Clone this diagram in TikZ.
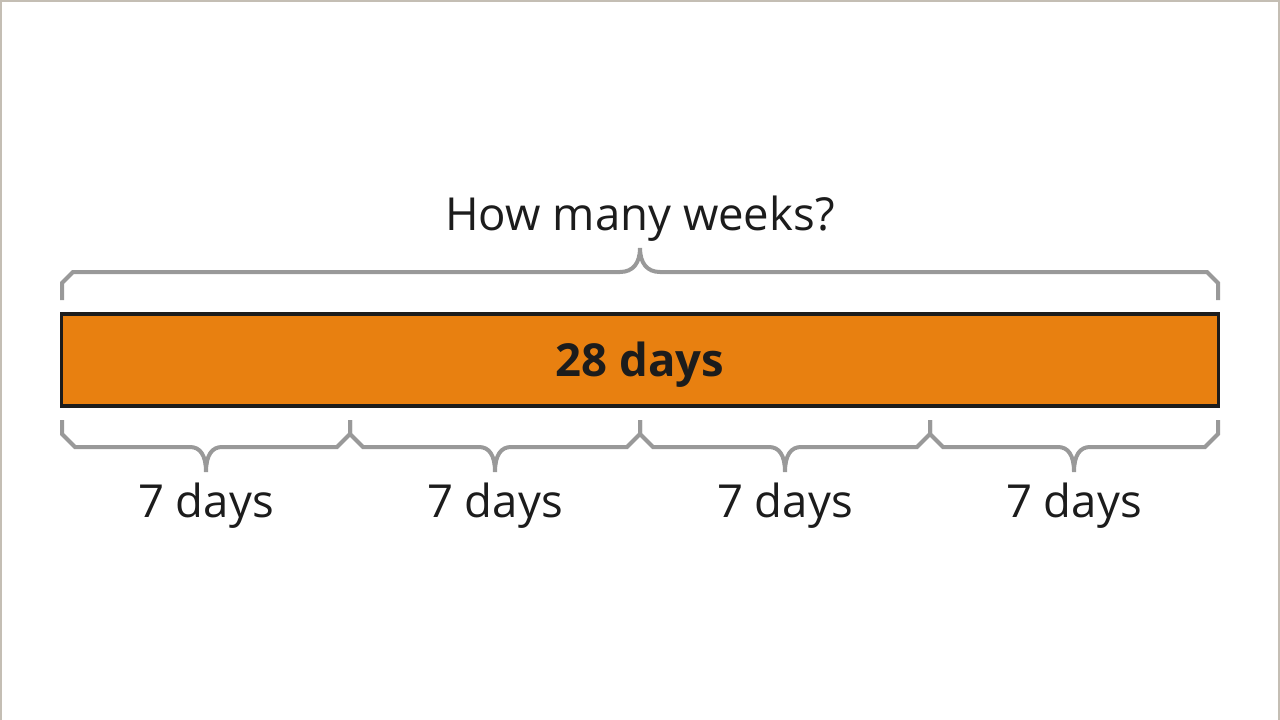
\documentclass[tikz,border=0pt]{standalone}
\usepackage{fontspec}
\setmainfont{Open Sans}
\definecolor{barorange}{HTML}{E88010}
\definecolor{bracegray}{HTML}{999999}
\definecolor{framegray}{HTML}{C4BEB4}
\definecolor{inkdark}{HTML}{1C1C1C}
\begin{document}
\begin{tikzpicture}[x=1pt,y=-1pt,
  brace/.style={draw=bracegray,line width=4pt,line join=miter},
  bar/.style={draw=inkdark,fill=barorange,line width=3.5pt,minimum width=1157pt,minimum height=92pt,inner sep=0pt},
  lbl/.style={anchor=base,inner sep=0pt,text=inkdark,font=\fontsize{45.5}{52}\selectfont},
  bold/.style={lbl,font=\fontsize{45.5}{52}\selectfont\bfseries}]
\useasboundingbox (0,0) rectangle (1280,720);
\fill[white] (0,0) rectangle (1280,720);
\draw[framegray,line width=2.5pt] (1,720) -- (1,1) -- (1279,1) -- (1279,720);
% bar
\node[bar] (bar) at (640,360) {};
\node[bold] (barlabel) at (640,376) {28 days};
% top brace
\draw[brace] (62,300) -- (62,283) -- (73,272) -- (620,272)
  .. controls (633,272) and (640,263) .. (640,248)
  .. controls (640,263) and (647,272) .. (660,272)
  -- (1207,272) -- (1218,283) -- (1218,300);
\node[lbl] (question) at (640,230) {How many weeks?};
% bottom braces
\foreach \a/\b/\n in {62/350/1,350/640/2,640/930/3,930/1218/4}{
  \pgfmathsetmacro{\m}{(\a+\b)/2}
  \draw[brace] (\a,420) -- (\a,434) -- (\a+13,447) -- (\m-16,447)
    .. controls (\m-6,447) and (\m,455) .. (\m,472)
    .. controls (\m,455) and (\m+6,447) .. (\m+16,447)
    -- (\b-13,447) -- (\b,434) -- (\b,420);
  \node[lbl] (week\n) at (\m,517) {7 days};
}
\end{tikzpicture}
\end{document}
